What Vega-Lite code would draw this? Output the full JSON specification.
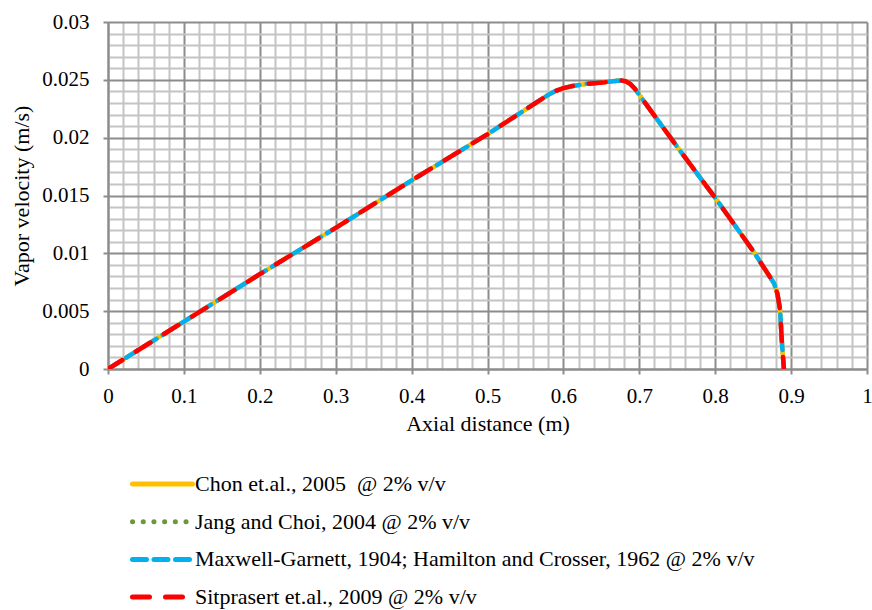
{
  "$schema": "https://vega.github.io/schema/vega-lite/v6.json",
  "width": 759,
  "height": 347,
  "autosize": {"type": "none"},
  "padding": {"left": 108, "top": 22, "right": 5, "bottom": 241},
  "background": "white",
  "config": {
    "view": {"stroke": null},
    "font": "Liberation Serif"
  },
  "data": {
    "values": [
      {"series": "Chon et.al., 2005\u00a0 @ 2% v/v", "x": 0, "y": 0},
      {"series": "Chon et.al., 2005\u00a0 @ 2% v/v", "x": 0.1, "y": 0.0041},
      {"series": "Chon et.al., 2005\u00a0 @ 2% v/v", "x": 0.2, "y": 0.0082},
      {"series": "Chon et.al., 2005\u00a0 @ 2% v/v", "x": 0.3, "y": 0.0122},
      {"series": "Chon et.al., 2005\u00a0 @ 2% v/v", "x": 0.4, "y": 0.0163},
      {"series": "Chon et.al., 2005\u00a0 @ 2% v/v", "x": 0.5, "y": 0.0203},
      {"series": "Chon et.al., 2005\u00a0 @ 2% v/v", "x": 0.58, "y": 0.0237},
      {"series": "Chon et.al., 2005\u00a0 @ 2% v/v", "x": 0.59, "y": 0.02405},
      {"series": "Chon et.al., 2005\u00a0 @ 2% v/v", "x": 0.6, "y": 0.02428},
      {"series": "Chon et.al., 2005\u00a0 @ 2% v/v", "x": 0.61, "y": 0.02444},
      {"series": "Chon et.al., 2005\u00a0 @ 2% v/v", "x": 0.63, "y": 0.02465},
      {"series": "Chon et.al., 2005\u00a0 @ 2% v/v", "x": 0.655, "y": 0.0248},
      {"series": "Chon et.al., 2005\u00a0 @ 2% v/v", "x": 0.675, "y": 0.02495},
      {"series": "Chon et.al., 2005\u00a0 @ 2% v/v", "x": 0.682, "y": 0.02488},
      {"series": "Chon et.al., 2005\u00a0 @ 2% v/v", "x": 0.688, "y": 0.02465},
      {"series": "Chon et.al., 2005\u00a0 @ 2% v/v", "x": 0.694, "y": 0.02425},
      {"series": "Chon et.al., 2005\u00a0 @ 2% v/v", "x": 0.7, "y": 0.0237},
      {"series": "Chon et.al., 2005\u00a0 @ 2% v/v", "x": 0.75, "y": 0.0192},
      {"series": "Chon et.al., 2005\u00a0 @ 2% v/v", "x": 0.8, "y": 0.0148},
      {"series": "Chon et.al., 2005\u00a0 @ 2% v/v", "x": 0.85, "y": 0.0102},
      {"series": "Chon et.al., 2005\u00a0 @ 2% v/v", "x": 0.8776, "y": 0.0074},
      {"series": "Chon et.al., 2005\u00a0 @ 2% v/v", "x": 0.882, "y": 0.0065},
      {"series": "Chon et.al., 2005\u00a0 @ 2% v/v", "x": 0.8855, "y": 0.0051},
      {"series": "Chon et.al., 2005\u00a0 @ 2% v/v", "x": 0.8877, "y": 0.0025},
      {"series": "Chon et.al., 2005\u00a0 @ 2% v/v", "x": 0.8905, "y": 0},

      {"series": "Jang and Choi, 2004 @ 2% v/v", "x": 0, "y": 0},
      {"series": "Jang and Choi, 2004 @ 2% v/v", "x": 0.1, "y": 0.0041},
      {"series": "Jang and Choi, 2004 @ 2% v/v", "x": 0.2, "y": 0.0082},
      {"series": "Jang and Choi, 2004 @ 2% v/v", "x": 0.3, "y": 0.0122},
      {"series": "Jang and Choi, 2004 @ 2% v/v", "x": 0.4, "y": 0.0163},
      {"series": "Jang and Choi, 2004 @ 2% v/v", "x": 0.5, "y": 0.0203},
      {"series": "Jang and Choi, 2004 @ 2% v/v", "x": 0.58, "y": 0.0237},
      {"series": "Jang and Choi, 2004 @ 2% v/v", "x": 0.59, "y": 0.02405},
      {"series": "Jang and Choi, 2004 @ 2% v/v", "x": 0.6, "y": 0.02428},
      {"series": "Jang and Choi, 2004 @ 2% v/v", "x": 0.61, "y": 0.02444},
      {"series": "Jang and Choi, 2004 @ 2% v/v", "x": 0.63, "y": 0.02465},
      {"series": "Jang and Choi, 2004 @ 2% v/v", "x": 0.655, "y": 0.0248},
      {"series": "Jang and Choi, 2004 @ 2% v/v", "x": 0.675, "y": 0.02495},
      {"series": "Jang and Choi, 2004 @ 2% v/v", "x": 0.682, "y": 0.02488},
      {"series": "Jang and Choi, 2004 @ 2% v/v", "x": 0.688, "y": 0.02465},
      {"series": "Jang and Choi, 2004 @ 2% v/v", "x": 0.694, "y": 0.02425},
      {"series": "Jang and Choi, 2004 @ 2% v/v", "x": 0.7, "y": 0.0237},
      {"series": "Jang and Choi, 2004 @ 2% v/v", "x": 0.75, "y": 0.0192},
      {"series": "Jang and Choi, 2004 @ 2% v/v", "x": 0.8, "y": 0.0148},
      {"series": "Jang and Choi, 2004 @ 2% v/v", "x": 0.85, "y": 0.0102},
      {"series": "Jang and Choi, 2004 @ 2% v/v", "x": 0.8776, "y": 0.0074},
      {"series": "Jang and Choi, 2004 @ 2% v/v", "x": 0.882, "y": 0.0065},
      {"series": "Jang and Choi, 2004 @ 2% v/v", "x": 0.8855, "y": 0.0051},
      {"series": "Jang and Choi, 2004 @ 2% v/v", "x": 0.8877, "y": 0.0025},
      {"series": "Jang and Choi, 2004 @ 2% v/v", "x": 0.8905, "y": 0},

      {"series": "Maxwell-Garnett, 1904; Hamilton and Crosser, 1962 @ 2% v/v", "x": 0, "y": 0},
      {"series": "Maxwell-Garnett, 1904; Hamilton and Crosser, 1962 @ 2% v/v", "x": 0.1, "y": 0.0041},
      {"series": "Maxwell-Garnett, 1904; Hamilton and Crosser, 1962 @ 2% v/v", "x": 0.2, "y": 0.0082},
      {"series": "Maxwell-Garnett, 1904; Hamilton and Crosser, 1962 @ 2% v/v", "x": 0.3, "y": 0.0122},
      {"series": "Maxwell-Garnett, 1904; Hamilton and Crosser, 1962 @ 2% v/v", "x": 0.4, "y": 0.0163},
      {"series": "Maxwell-Garnett, 1904; Hamilton and Crosser, 1962 @ 2% v/v", "x": 0.5, "y": 0.0203},
      {"series": "Maxwell-Garnett, 1904; Hamilton and Crosser, 1962 @ 2% v/v", "x": 0.58, "y": 0.0237},
      {"series": "Maxwell-Garnett, 1904; Hamilton and Crosser, 1962 @ 2% v/v", "x": 0.59, "y": 0.02405},
      {"series": "Maxwell-Garnett, 1904; Hamilton and Crosser, 1962 @ 2% v/v", "x": 0.6, "y": 0.02428},
      {"series": "Maxwell-Garnett, 1904; Hamilton and Crosser, 1962 @ 2% v/v", "x": 0.61, "y": 0.02444},
      {"series": "Maxwell-Garnett, 1904; Hamilton and Crosser, 1962 @ 2% v/v", "x": 0.63, "y": 0.02465},
      {"series": "Maxwell-Garnett, 1904; Hamilton and Crosser, 1962 @ 2% v/v", "x": 0.655, "y": 0.0248},
      {"series": "Maxwell-Garnett, 1904; Hamilton and Crosser, 1962 @ 2% v/v", "x": 0.675, "y": 0.02495},
      {"series": "Maxwell-Garnett, 1904; Hamilton and Crosser, 1962 @ 2% v/v", "x": 0.682, "y": 0.02488},
      {"series": "Maxwell-Garnett, 1904; Hamilton and Crosser, 1962 @ 2% v/v", "x": 0.688, "y": 0.02465},
      {"series": "Maxwell-Garnett, 1904; Hamilton and Crosser, 1962 @ 2% v/v", "x": 0.694, "y": 0.02425},
      {"series": "Maxwell-Garnett, 1904; Hamilton and Crosser, 1962 @ 2% v/v", "x": 0.7, "y": 0.0237},
      {"series": "Maxwell-Garnett, 1904; Hamilton and Crosser, 1962 @ 2% v/v", "x": 0.75, "y": 0.0192},
      {"series": "Maxwell-Garnett, 1904; Hamilton and Crosser, 1962 @ 2% v/v", "x": 0.8, "y": 0.0148},
      {"series": "Maxwell-Garnett, 1904; Hamilton and Crosser, 1962 @ 2% v/v", "x": 0.85, "y": 0.0102},
      {"series": "Maxwell-Garnett, 1904; Hamilton and Crosser, 1962 @ 2% v/v", "x": 0.8776, "y": 0.0074},
      {"series": "Maxwell-Garnett, 1904; Hamilton and Crosser, 1962 @ 2% v/v", "x": 0.882, "y": 0.0065},
      {"series": "Maxwell-Garnett, 1904; Hamilton and Crosser, 1962 @ 2% v/v", "x": 0.8855, "y": 0.0051},
      {"series": "Maxwell-Garnett, 1904; Hamilton and Crosser, 1962 @ 2% v/v", "x": 0.8877, "y": 0.0025},
      {"series": "Maxwell-Garnett, 1904; Hamilton and Crosser, 1962 @ 2% v/v", "x": 0.8905, "y": 0},

      {"series": "Sitprasert et.al., 2009 @ 2% v/v", "x": 0, "y": 0},
      {"series": "Sitprasert et.al., 2009 @ 2% v/v", "x": 0.1, "y": 0.0041},
      {"series": "Sitprasert et.al., 2009 @ 2% v/v", "x": 0.2, "y": 0.0082},
      {"series": "Sitprasert et.al., 2009 @ 2% v/v", "x": 0.3, "y": 0.0122},
      {"series": "Sitprasert et.al., 2009 @ 2% v/v", "x": 0.4, "y": 0.0163},
      {"series": "Sitprasert et.al., 2009 @ 2% v/v", "x": 0.5, "y": 0.0203},
      {"series": "Sitprasert et.al., 2009 @ 2% v/v", "x": 0.58, "y": 0.0237},
      {"series": "Sitprasert et.al., 2009 @ 2% v/v", "x": 0.59, "y": 0.02405},
      {"series": "Sitprasert et.al., 2009 @ 2% v/v", "x": 0.6, "y": 0.02428},
      {"series": "Sitprasert et.al., 2009 @ 2% v/v", "x": 0.61, "y": 0.02444},
      {"series": "Sitprasert et.al., 2009 @ 2% v/v", "x": 0.63, "y": 0.02465},
      {"series": "Sitprasert et.al., 2009 @ 2% v/v", "x": 0.655, "y": 0.0248},
      {"series": "Sitprasert et.al., 2009 @ 2% v/v", "x": 0.675, "y": 0.02495},
      {"series": "Sitprasert et.al., 2009 @ 2% v/v", "x": 0.682, "y": 0.02488},
      {"series": "Sitprasert et.al., 2009 @ 2% v/v", "x": 0.688, "y": 0.02465},
      {"series": "Sitprasert et.al., 2009 @ 2% v/v", "x": 0.694, "y": 0.02425},
      {"series": "Sitprasert et.al., 2009 @ 2% v/v", "x": 0.7, "y": 0.0237},
      {"series": "Sitprasert et.al., 2009 @ 2% v/v", "x": 0.75, "y": 0.0192},
      {"series": "Sitprasert et.al., 2009 @ 2% v/v", "x": 0.8, "y": 0.0148},
      {"series": "Sitprasert et.al., 2009 @ 2% v/v", "x": 0.85, "y": 0.0102},
      {"series": "Sitprasert et.al., 2009 @ 2% v/v", "x": 0.8776, "y": 0.0074},
      {"series": "Sitprasert et.al., 2009 @ 2% v/v", "x": 0.882, "y": 0.0065},
      {"series": "Sitprasert et.al., 2009 @ 2% v/v", "x": 0.8855, "y": 0.0051},
      {"series": "Sitprasert et.al., 2009 @ 2% v/v", "x": 0.8877, "y": 0.0025},
      {"series": "Sitprasert et.al., 2009 @ 2% v/v", "x": 0.8905, "y": 0}
    ]
  },
  "encoding": {
    "x": {
      "field": "x",
      "type": "quantitative",
      "scale": {"domain": [0, 1], "nice": false, "zero": false},
      "axis": {
        "title": "Axial distance (m)",
        "values": [0, 0.02, 0.04, 0.06, 0.08, 0.1, 0.12, 0.14, 0.16, 0.18, 0.2, 0.22, 0.24, 0.26, 0.28, 0.3, 0.32, 0.34, 0.36, 0.38, 0.4, 0.42, 0.44, 0.46, 0.48, 0.5, 0.52, 0.54, 0.56, 0.58, 0.6, 0.62, 0.64, 0.66, 0.68, 0.7, 0.72, 0.74, 0.76, 0.78, 0.8, 0.82, 0.84, 0.86, 0.88, 0.9, 0.92, 0.94, 0.96, 0.98, 1],
        "labelExpr": "abs(datum.value * 10 - round(datum.value * 10)) < 1e-6 ? format(datum.value, '~g') : ''",
        "labelOverlap": false,
        "labelFlush": false,
        "labelFont": "Liberation Serif",
        "labelFontSize": 21,
        "labelColor": "#000000",
        "labelPadding": 11,
        "grid": true,
        "gridWidth": 2,
        "gridColor": {"condition": {"test": "abs(datum.value * 10 - round(datum.value * 10)) < 1e-6", "value": "#8c8c8c"}, "value": "#c4c4c4"},
        "tickSize": 5,
        "tickWidth": 2,
        "tickColor": "#8c8c8c",
        "tickOpacity": {"condition": {"test": "abs(datum.value * 10 - round(datum.value * 10)) < 1e-6", "value": 1}, "value": 0},
        "domainColor": "#8c8c8c",
        "domainWidth": 2,
        "titleFont": "Liberation Serif",
        "titleFontSize": 22,
        "titleFontWeight": "normal",
        "titleColor": "#000000",
        "titlePadding": 7
      }
    },
    "y": {
      "field": "y",
      "type": "quantitative",
      "scale": {"domain": [0, 0.03], "nice": false, "zero": false},
      "axis": {
        "title": "Vapor velocity (m/s)",
        "values": [0, 0.001, 0.002, 0.003, 0.004, 0.005, 0.006, 0.007, 0.008, 0.009, 0.01, 0.011, 0.012, 0.013, 0.014, 0.015, 0.016, 0.017, 0.018, 0.019, 0.02, 0.021, 0.022, 0.023, 0.024, 0.025, 0.026, 0.027, 0.028, 0.029, 0.03],
        "labelExpr": "abs(datum.value * 200 - round(datum.value * 200)) < 1e-6 ? format(datum.value, '~g') : ''",
        "labelOverlap": false,
        "labelFlush": false,
        "labelFont": "Liberation Serif",
        "labelFontSize": 21,
        "labelColor": "#000000",
        "labelPadding": 14,
        "grid": true,
        "gridWidth": 2,
        "gridColor": {"condition": {"test": "abs(datum.value * 200 - round(datum.value * 200)) < 1e-6", "value": "#8c8c8c"}, "value": "#c4c4c4"},
        "tickSize": 5,
        "tickWidth": 2,
        "tickColor": "#8c8c8c",
        "tickOpacity": {"condition": {"test": "abs(datum.value * 200 - round(datum.value * 200)) < 1e-6", "value": 1}, "value": 0},
        "domainColor": "#8c8c8c",
        "domainWidth": 2,
        "titleFont": "Liberation Serif",
        "titleFontSize": 22,
        "titleFontWeight": "normal",
        "titleColor": "#000000",
        "titlePadding": 8
      }
    },
    "color": {
      "field": "series",
      "type": "nominal",
      "scale": {
        "domain": ["Chon et.al., 2005\u00a0 @ 2% v/v", "Jang and Choi, 2004 @ 2% v/v", "Maxwell-Garnett, 1904; Hamilton and Crosser, 1962 @ 2% v/v", "Sitprasert et.al., 2009 @ 2% v/v"],
        "range": ["#ffc000", "#70963c", "#00b0f0", "#ff0000"]
      },
      "legend": {
        "orient": "none",
        "legendX": 17,
        "legendY": 447,
        "padding": 5,
        "title": null,
        "symbolType": "stroke",
        "symbolSize": 3600,
        "symbolStrokeWidth": 5,
        "clipHeight": 20,
        "labelFont": "Liberation Serif",
        "labelFontSize": 22,
        "labelColor": "#000000",
        "labelOffset": 0,
        "labelLimit": 700,
        "rowPadding": 15.7,
        "encode": {"symbols": {"update": {"strokeCap": {"value": "round"}}}}
      }
    },
    "strokeDash": {
      "field": "series",
      "type": "nominal",
      "scale": {
        "domain": ["Chon et.al., 2005\u00a0 @ 2% v/v", "Jang and Choi, 2004 @ 2% v/v", "Maxwell-Garnett, 1904; Hamilton and Crosser, 1962 @ 2% v/v", "Sitprasert et.al., 2009 @ 2% v/v"],
        "range": [[1, 0], [0.1, 10.6], [14, 7.5], [17, 16]]
      },
      "legend": null
    }
  },
  "layer": [
    {
      "transform": [{"filter": "datum.series === 'Jang and Choi, 2004 @ 2% v/v'"}],
      "mark": {"type": "line", "strokeWidth": 4.5, "strokeCap": "round", "strokeJoin": "round", "clip": true}
    },
    {
      "transform": [{"filter": "indexof(datum.series, 'Chon') === 0"}],
      "mark": {"type": "line", "strokeWidth": 4.5, "strokeCap": "round", "strokeJoin": "round", "clip": true}
    },
    {
      "transform": [{"filter": "datum.series === 'Maxwell-Garnett, 1904; Hamilton and Crosser, 1962 @ 2% v/v'"}],
      "mark": {"type": "line", "strokeWidth": 4.5, "strokeCap": "round", "strokeJoin": "round", "clip": true}
    },
    {
      "transform": [{"filter": "datum.series === 'Sitprasert et.al., 2009 @ 2% v/v'"}],
      "mark": {"type": "line", "strokeWidth": 4.5, "strokeCap": "round", "strokeJoin": "round", "clip": true}
    }
  ]
}
